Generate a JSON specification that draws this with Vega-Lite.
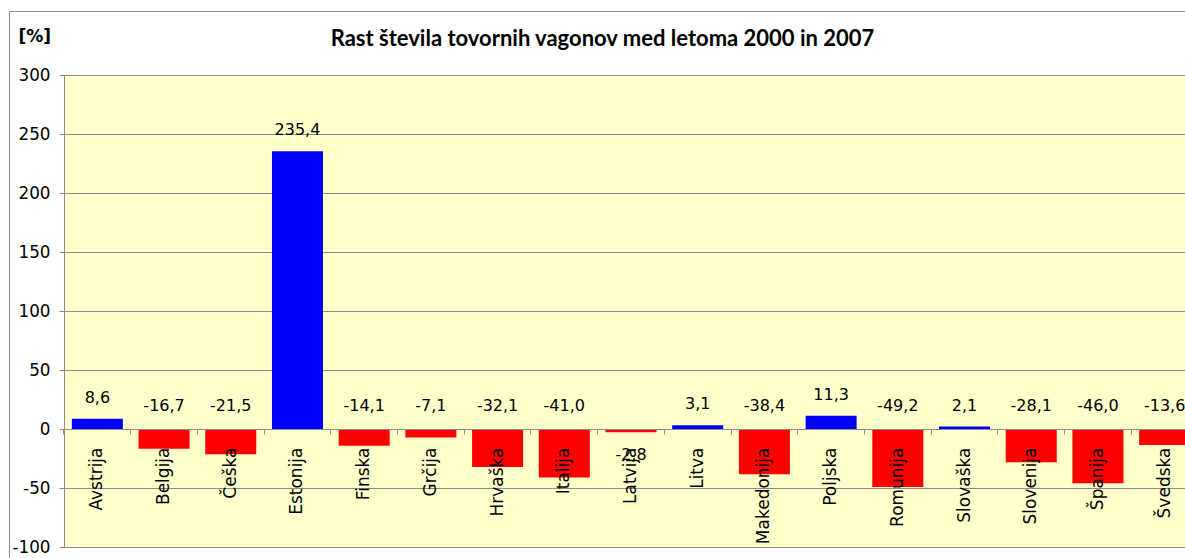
{
  "$schema": "https://vega.github.io/schema/vega-lite/v6.json",
  "width": 1121,
  "height": 472,
  "autosize": {"type": "none"},
  "padding": {"left": 64, "top": 75, "right": 0, "bottom": 11},
  "background": "white",
  "config": {
    "locale": {"number": {"decimal": ",", "thousands": ".", "grouping": [3], "currency": ["", " €"], "minus": "-"}},
    "view": {"fill": "#FFFFCC", "stroke": "#A6A6A6", "strokeWidth": 1}
  },
  "title": {
    "text": "Rast števila tovornih vagonov med letoma 2000 in 2007",
    "frame": "group",
    "anchor": "middle",
    "dx": -22,
    "dy": 87,
    "offset": 30,
    "baseline": "alphabetic",
    "font": "Lato",
    "fontWeight": "bold",
    "fontSize": 22,
    "color": "black"
  },
  "data": {
    "values": [
      {"country": "Avstrija", "value": 8.6},
      {"country": "Belgija", "value": -16.7},
      {"country": "Češka", "value": -21.5},
      {"country": "Estonija", "value": 235.4},
      {"country": "Finska", "value": -14.1},
      {"country": "Grčija", "value": -7.1},
      {"country": "Hrvaška", "value": -32.1},
      {"country": "Italija", "value": -41.0},
      {"country": "Latvija", "value": -2.8},
      {"country": "Litva", "value": 3.1},
      {"country": "Makedonija", "value": -38.4},
      {"country": "Poljska", "value": 11.3},
      {"country": "Romunija", "value": -49.2},
      {"country": "Slovaška", "value": 2.1},
      {"country": "Slovenija", "value": -28.1},
      {"country": "Španija", "value": -46.0},
      {"country": "Švedska", "value": -13.6}
    ]
  },
  "resolve": {"scale": {"x": "independent", "y": "independent"}, "axis": {"x": "independent", "y": "independent"}},
  "layer": [
    {
      "encoding": {
        "x": {
          "field": "country",
          "type": "nominal",
          "sort": null,
          "scale": {"range": [0, 1134], "paddingInner": 0.235, "paddingOuter": 0.1175},
          "axis": {
            "title": null,
            "orient": "bottom",
            "offset": -118,
            "labelAngle": -90,
            "labelAlign": "right",
            "labelBaseline": "middle",
            "labelPadding": 13,
            "labelFont": "DejaVu Sans",
            "labelFontSize": 17,
            "labelColor": "black",
            "tickSize": 5,
            "tickColor": "#8C8C8C",
            "domainColor": "#8C8C8C",
            "bandPosition": -0.154,
            "grid": false,
            "zindex": 1
          }
        }
      },
      "layer": [
        {
          "mark": {"type": "bar", "clip": true},
          "encoding": {
            "y": {
              "field": "value",
              "type": "quantitative",
              "scale": {"domain": [-100, 300], "nice": false, "zero": false},
              "axis": {
                "orient": "left",
                "values": [-100, -50, 0, 50, 100, 150, 200, 250, 300],
                "grid": true,
                "gridColor": "#8C8C8C",
                "domainColor": "#8C8C8C",
                "tickColor": "#8C8C8C",
                "tickSize": 5,
                "labelFont": "DejaVu Sans",
                "labelFontSize": 16.8,
                "labelColor": "black",
                "labelPadding": 9,
                "title": "[%]",
                "titleAngle": 0,
                "titleAlign": "left",
                "titleBaseline": "alphabetic",
                "titleX": -46,
                "titleY": -34,
                "titleFont": "DejaVu Sans",
                "titleFontSize": 17,
                "titleFontWeight": "bold",
                "titleColor": "black"
              }
            },
            "color": {"condition": {"test": "datum.value > 0", "value": "#0000FF"}, "value": "#FF0000"}
          }
        },
        {
          "transform": [{"filter": "datum.value > 0"}],
          "mark": {"type": "text", "dy": -21, "font": "DejaVu Sans", "fontSize": 16, "color": "black", "baseline": "middle"},
          "encoding": {
            "y": {"field": "value", "type": "quantitative"},
            "text": {"field": "value", "type": "quantitative", "format": ".1f"}
          }
        },
        {
          "transform": [{"filter": "datum.value <= -5"}],
          "mark": {"type": "text", "dy": -23, "font": "DejaVu Sans", "fontSize": 16, "color": "black", "baseline": "middle"},
          "encoding": {
            "y": {"datum": 0},
            "text": {"field": "value", "type": "quantitative", "format": ".1f"}
          }
        },
        {
          "transform": [{"filter": "datum.value < 0 && datum.value > -5"}],
          "mark": {"type": "text", "dy": 23, "font": "DejaVu Sans", "fontSize": 16, "color": "black", "baseline": "middle"},
          "encoding": {
            "y": {"field": "value", "type": "quantitative"},
            "text": {"field": "value", "type": "quantitative", "format": ".1f"}
          }
        }
      ]
    },
    {
      "transform": [{"filter": "datum.country == 'Avstrija'"}],
      "mark": {"type": "point", "opacity": 0},
      "encoding": {
        "x": {
          "datum": 0,
          "type": "quantitative",
          "scale": {"domain": [0, 1], "range": [-55, 1200]},
          "axis": {"orient": "top", "offset": 64, "ticks": false, "labels": false, "grid": false, "title": null, "domainColor": "#8C8C8C"}
        },
        "y": {
          "datum": 0,
          "type": "quantitative",
          "scale": {"domain": [0, 1], "range": [483, -64]},
          "axis": {"orient": "left", "offset": 55, "ticks": false, "labels": false, "grid": false, "title": null, "domainColor": "#8C8C8C"}
        }
      }
    }
  ]
}
